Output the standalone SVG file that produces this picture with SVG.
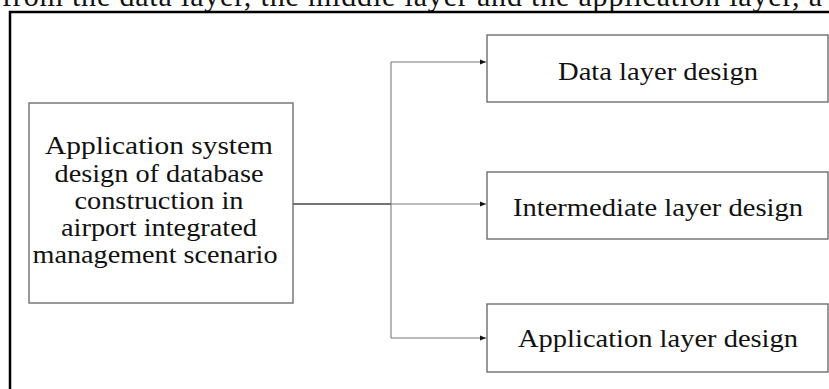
<svg xmlns="http://www.w3.org/2000/svg" width="829" height="389" viewBox="0 0 829 389">
  <style>
    .box { fill: #ffffff; stroke: #6e6e6e; stroke-width: 1.4; }
    .lbl { font-family: "Liberation Serif", "Times New Roman", serif; font-size: 25px; fill: #111111; text-anchor: middle; }
    .conn { fill: none; stroke: #7a7a7a; stroke-width: 1.1; }
    .main { fill: none; stroke: #444444; stroke-width: 1.3; }
  </style>
  <defs>
    <marker id="arr" markerWidth="8" markerHeight="8" refX="6" refY="3" orient="auto" markerUnits="userSpaceOnUse">
      <path d="M0,0.5 L6,3 L0,5.5 Z" fill="#111111"/>
    </marker>
  </defs>
  <rect width="829" height="389" fill="#ffffff"/>
  <text x="2" y="6" font-family="Liberation Serif, Times New Roman, serif" font-size="30" fill="#111111" textLength="820" lengthAdjust="spacing">from the data layer, the middle layer and the application layer, a</text>
  <rect x="10" y="12" width="860" height="420" fill="none" stroke="#000000" stroke-width="2.5"/>

  <g id="connectors">
    <path class="main" d="M293,204 H391"/>
    <path class="conn" d="M391,62 V338"/>
    <path class="conn" d="M391,62 H486" marker-end="url(#arr)"/>
    <path class="conn" d="M391,204 H486" marker-end="url(#arr)"/>
    <path class="conn" d="M391,338 H486" marker-end="url(#arr)"/>
  </g>

  <g id="root">
    <rect class="box" x="29" y="103" width="264" height="200"/>
    <text class="lbl" x="159" y="154" textLength="228" lengthAdjust="spacingAndGlyphs">Application system</text>
    <text class="lbl" x="159" y="181.5" textLength="209" lengthAdjust="spacingAndGlyphs">design of database</text>
    <text class="lbl" x="159" y="209" textLength="169" lengthAdjust="spacingAndGlyphs">construction in</text>
    <text class="lbl" x="159" y="236" textLength="196" lengthAdjust="spacingAndGlyphs">airport integrated</text>
    <text class="lbl" x="155" y="263" textLength="245" lengthAdjust="spacingAndGlyphs">management scenario</text>
  </g>

  <g id="data">
    <rect class="box" x="487" y="35" width="341" height="67"/>
    <text class="lbl" x="658" y="80" textLength="200" lengthAdjust="spacingAndGlyphs">Data layer design</text>
  </g>

  <g id="intermediate">
    <rect class="box" x="487" y="172" width="341" height="67"/>
    <text class="lbl" x="658" y="216" textLength="290" lengthAdjust="spacingAndGlyphs">Intermediate layer design</text>
  </g>

  <g id="application">
    <rect class="box" x="487" y="304" width="341" height="68"/>
    <text class="lbl" x="658" y="347" textLength="280" lengthAdjust="spacingAndGlyphs">Application layer design</text>
  </g>
</svg>
